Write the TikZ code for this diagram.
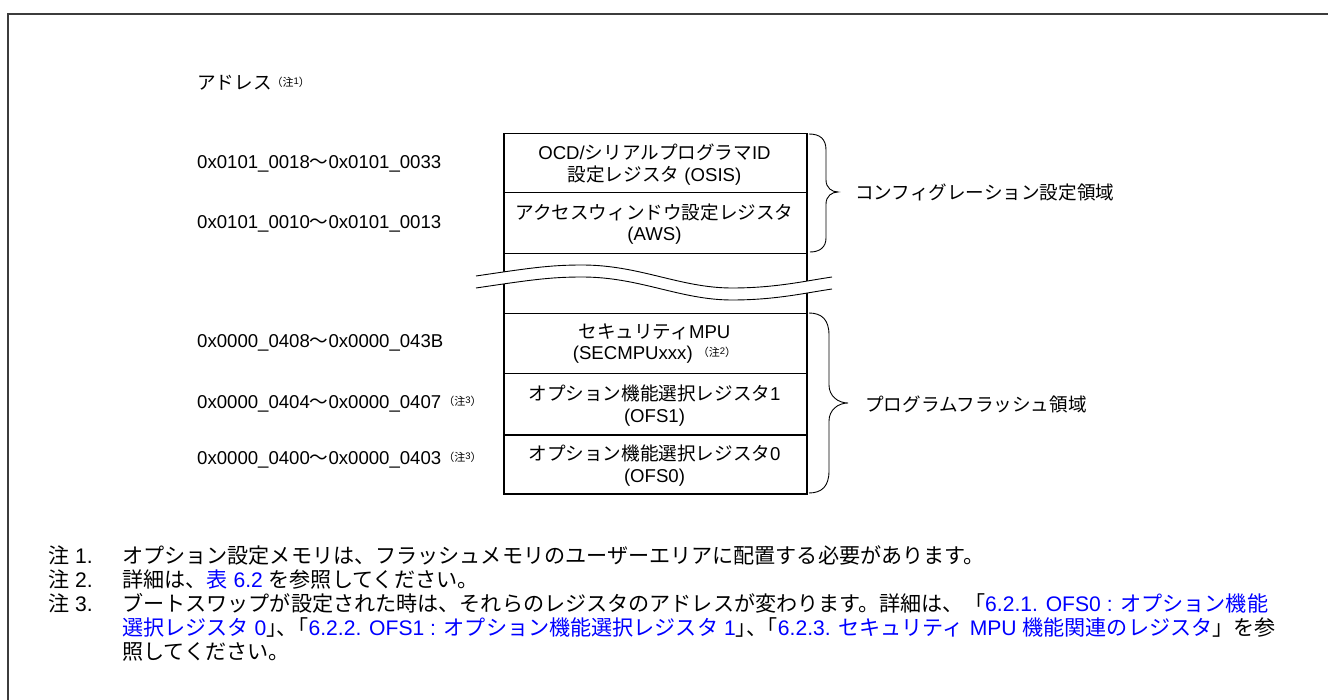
\documentclass[tikz,border=0pt]{standalone}
\usepackage{fontspec}
\setmainfont{Liberation Sans}
\newfontfamily\jp{Noto Sans CJK JP}
\newfontfamily\jph[RawFeature=+halt]{Noto Sans CJK JP}
\definecolor{linkblue}{RGB}{0,0,255}
\definecolor{framegray}{RGB}{60,60,60}
\newcommand\chunote[1]{\raisebox{3pt}{\fontsize{11}{11}\selectfont{\jp （注}\raisebox{2.5pt}{\fontsize{9.5}{9.5}\selectfont #1}{\jp ）}}}
\newcommand\dgfont{\fontsize{18.6}{21.5}\selectfont}
\newcommand\ntfont{\fontsize{21.1}{24}\selectfont}
\tikzset{
  lbl/.style={font=\dgfont, inner sep=0pt, text height=13.3pt, text depth=0pt},
  nlbl/.style={font=\ntfont, inner sep=0pt, text height=15pt, text depth=0pt, anchor=west},
  rowbox/.style={draw=black, line width=1.5pt, minimum width=303pt, inner sep=0pt, anchor=north west},
  bracel/.style={draw=black, line width=0.9pt},
  wavel/.style={draw=black, line width=0.9pt},
}
\begin{document}
\begin{tikzpicture}[x=1pt,y=-1pt]
\useasboundingbox (0,0) rectangle (1328,700);
% frame
\draw[framegray, line width=2pt] (8,700) -- (8,14) -- (1328,14);
% header
\node[lbl, anchor=west] (addr) at (197,83) {{\jp アドレス}\chunote{1}};
% rows
\node[rowbox, minimum height=59pt] (osis) at (503,133) {};
\node[rowbox, minimum height=61pt] (aws) at (503,192) {};
\node[rowbox, minimum height=60pt] (gap) at (503,253) {};
\node[rowbox, minimum height=60pt] (sec) at (503,313) {};
\node[rowbox, minimum height=61pt] (ofsa) at (503,373) {};
\node[rowbox, minimum height=59pt] (ofsb) at (503,434) {};
% break
\path[fill=white] (476,276) .. controls (530,268) and (550,265) .. (582,265) .. controls (640,265) and (680,288) .. (732,288) .. controls (775,288) and (805,281) .. (832,277)
  -- (832,289) .. controls (805,293) and (775,300) .. (732,300) .. controls (680,300) and (640,277) .. (582,277) .. controls (550,277) and (530,280) .. (476,288) -- cycle;
\draw[wavel] (476,276) .. controls (530,268) and (550,265) .. (582,265) .. controls (640,265) and (680,288) .. (732,288) .. controls (775,288) and (805,281) .. (832,277);
\draw[wavel] (476,288) .. controls (530,280) and (550,277) .. (582,277) .. controls (640,277) and (680,300) .. (732,300) .. controls (775,300) and (805,293) .. (832,289);
% row texts
\node[lbl] (t1a) at (654.5,153) {OCD/{\jp シリアルプログラマ}ID};
\node[lbl] (t1b) at (654.5,175) {{\jp 設定レジスタ} (OSIS)};
\node[lbl] (t2a) at (654.5,213) {\jp アクセスウィンドウ設定レジスタ};
\node[lbl] (t2b) at (654.5,234) {(AWS)};
\node[lbl] (t3a) at (654.5,332) {{\jp セキュリティ}MPU};
\node[lbl] (t3b) at (654.5,353) {(SECMPUxxx) \chunote{2}};
\node[lbl] (t4a) at (654.5,394) {{\jp オプション機能選択レジスタ}1};
\node[lbl] (t4b) at (654.5,416) {(OFS1)};
\node[lbl] (t5a) at (654.5,454) {{\jp オプション機能選択レジスタ}0};
\node[lbl] (t5b) at (654.5,476) {(OFS0)};
% addresses
\node[lbl, anchor=west] (a1) at (197,162) {0x0101\_0018{\jp 〜}0x0101\_0033};
\node[lbl, anchor=west] (a2) at (197,222) {0x0101\_0010{\jp 〜}0x0101\_0013};
\node[lbl, anchor=west] (a3) at (197,341) {0x0000\_0408{\jp 〜}0x0000\_043B};
\node[lbl, anchor=west] (a4) at (197,402) {0x0000\_0404{\jp 〜}0x0000\_0407\hspace{2pt}\chunote{3}};
\node[lbl, anchor=west] (a5) at (197,458) {0x0000\_0400{\jp 〜}0x0000\_0403\hspace{2pt}\chunote{3}};
% braces
\draw[bracel] (809,134) .. controls (820,134) and (826,139) .. (826,150) -- (826,180) .. controls (826,188) and (832,192) .. (838,192) .. controls (832,192) and (826,196) .. (826,204) -- (826,238) .. controls (826,247) and (820,252) .. (810,252);
\draw[bracel] (809,313) .. controls (822,313) and (829,320) .. (829,335) -- (829,385) .. controls (829,396) and (838,403) .. (848,403) .. controls (838,403) and (829,410) .. (829,421) -- (829,471) .. controls (829,486) and (822,493) .. (809,493);
\node[lbl, anchor=west] (cfg) at (855,193) {\jp コンフィグレーション設定領域};
\node[lbl, anchor=west] (prg) at (865,405) {\jp プログラムフラッシュ領域};
% notes
\node[nlbl] (n1l) at (48,556) {{\jp 注} 1.};
\node[nlbl] (n1) at (122,556) {\jp オプション設定メモリは、フラッシュメモリのユーザーエリアに配置する必要があります。};
\node[nlbl] (n2l) at (48,580) {{\jp 注} 2.};
\node[nlbl] (n2) at (122,580) {{\jp 詳細は、}\textcolor{linkblue}{{\jp 表} 6.2} {\jp を参照してください。}};
\node[nlbl] (n3l) at (48,604) {{\jp 注} 3.};
\node[nlbl] (n3) at (122,604) {{\jp ブートスワップが設定された時は、それらのレジスタのアドレスが変わります。詳細は、「}\textcolor{linkblue}{6.2.1. OFS0 : {\jp オプション機能}}};
\node[nlbl] (n4) at (122,628) {\textcolor{linkblue}{{\jp 選択レジスタ} 0}{\jph 」}{\jp 、}{\jph 「}\textcolor{linkblue}{6.2.2. OFS1 : {\jp オプション機能選択レジスタ} 1}{\jph 」}{\jp 、}{\jph 「}\textcolor{linkblue}{6.2.3. {\jp セキュリティ} MPU {\jp 機能関連のレジスタ}}{\jp 」を参}};
\node[nlbl] (n5) at (122,652) {\jp 照してください。};
\end{tikzpicture}
\end{document}
